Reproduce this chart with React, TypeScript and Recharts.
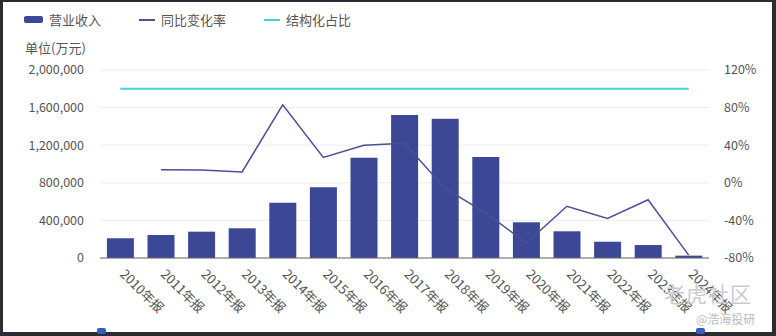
import React from "react";
import {
  ComposedChart,
  Bar,
  Line,
  XAxis,
  YAxis,
  CartesianGrid,
} from "recharts";

const years = [
  "2010年报", "2011年报", "2012年报", "2013年报", "2014年报", "2015年报", "2016年报",
  "2017年报", "2018年报", "2019年报", "2020年报", "2021年报", "2022年报", "2023年报", "2024年报",
];
// 营业收入 (万元)
const revenue = [
  210000, 245000, 280000, 316000, 588000, 752000, 1067000,
  1521000, 1482000, 1074000, 380000, 284000, 173000, 138000, 25000,
];
// 同比变化率 (%)
const yoy = [null, 14, 13.5, 11.5, 83, 27, 40, 42, -6, -32, -64, -25, -38, -18, -77];
// 结构化占比 (%)
const share = [100, 100, 100, 100, 100, 100, 100, 100, 100, 100, 100, 100, 100, 100, 100];

const leftTicks = [0, 400000, 800000, 1200000, 1600000, 2000000];
const rightTicks = [-80, -40, 0, 40, 80, 120];

const data = years.map((y, i) => ({
  year: y,
  revenue: revenue[i],
  yoy: yoy[i],
  share: share[i],
}));

const FONT = "'Noto Sans CJK SC', 'Noto Sans', sans-serif";
const BAR = "#3c4895";
const LINE = "#4a4f98";
const CYAN = "#3fd4d6";
const TXT = "#555";

const XTick = (props: any) => {
  const { x, y, payload } = props;
  return (
    <text
      x={x - 1}
      y={y + 9}
      transform={`rotate(45 ${x - 1} ${y + 9})`}
      fontSize={13}
      fill={TXT}
      fontFamily={FONT}
      textAnchor="start"
    >
      {payload.value}
    </text>
  );
};

export default function App() {
  return (
    <div
      style={{
        position: "fixed",
        left: 0,
        top: 0,
        width: 776,
        height: 336,
        background: "#2b2b33",
        fontFamily: FONT,
      }}
    >
      <div
        style={{
          position: "absolute",
          left: 3,
          top: 2,
          width: 769,
          height: 330,
          background: "#fff",
        }}
      />
      {/* legend */}
      <div style={{ position: "absolute", left: 24, top: 10, display: "flex", alignItems: "center", fontSize: 13, color: TXT }}>
        <span style={{ display: "inline-block", width: 19, height: 7, background: BAR, borderRadius: 2, marginRight: 6 }} />
        <span style={{ marginRight: 38 }}>营业收入</span>
        <span style={{ display: "inline-block", width: 16, height: 2, background: LINE, marginRight: 6 }} />
        <span style={{ marginRight: 38 }}>同比变化率</span>
        <span style={{ display: "inline-block", width: 16, height: 2, background: CYAN, marginRight: 6 }} />
        <span>结构化占比</span>
      </div>
      <div style={{ position: "absolute", left: 25, top: 38, fontSize: 13, color: TXT }}>单位(万元)</div>
      <div style={{ position: "absolute", left: 0, top: 0 }}>
        <ComposedChart
          width={776}
          height={336}
          data={data}
          margin={{ top: 70, right: 0, left: 0, bottom: 0 }}
          barCategoryGap="17%"
        >
          <CartesianGrid vertical={false} stroke="#ececf0" yAxisId="left" />
          <XAxis
            dataKey="year"
            height={78}
            interval={0}
            tick={<XTick />}
            tickLine={false}
            axisLine={{ stroke: "#666" }}
          />
          <YAxis
            yAxisId="left"
            width={100}
            domain={[0, 2000000]}
            ticks={leftTicks}
            tickFormatter={(v: number) => v.toLocaleString("en-US")}
            axisLine={false}
            tickLine={false}
            tick={{ fontSize: 12.5, fill: TXT, fontFamily: FONT }}
            tickMargin={10}
          />
          <YAxis
            yAxisId="right"
            orientation="right"
            width={67}
            domain={[-80, 120]}
            ticks={rightTicks}
            tickFormatter={(v: number) => `${v}%`}
            axisLine={false}
            tickLine={false}
            tick={{ fontSize: 12.5, fill: TXT, fontFamily: FONT }}
            tickMargin={9}
          />
          <Bar yAxisId="left" dataKey="revenue" fill={BAR} isAnimationActive={false} />
          <Line
            yAxisId="right"
            dataKey="yoy"
            stroke={LINE}
            strokeWidth={1.5}
            dot={false}
            type="linear"
            isAnimationActive={false}
          />
          <Line
            yAxisId="right"
            dataKey="share"
            stroke={CYAN}
            strokeWidth={2}
            dot={false}
            type="linear"
            isAnimationActive={false}
          />
        </ComposedChart>
      </div>
      {/* watermark */}
      <div style={{ position: "absolute", left: 664, top: 278, fontSize: 21, color: "#c9cbd2", letterSpacing: 1 }}>
        老虎社区
      </div>
      <div style={{ position: "absolute", left: 696, top: 310, fontSize: 12, color: "#b8bac2" }}>@浩海投研</div>
      <div style={{ position: "absolute", left: 97, top: 328, width: 9, height: 6, background: "#3a5cc0", borderRadius: 2 }} />
      <div style={{ position: "absolute", left: 696, top: 328, width: 9, height: 6, background: "#3a5cc0", borderRadius: 2 }} />
    </div>
  );
}
